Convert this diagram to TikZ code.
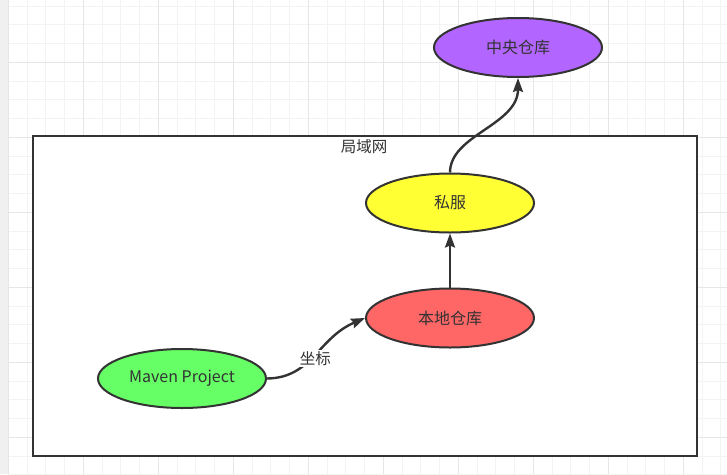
\documentclass[tikz,border=0pt]{standalone}
\usepackage{fontspec}
\setmainfont{Noto Sans CJK SC}
\usetikzlibrary{arrows.meta, shapes.geometric}

\definecolor{edgegray}{HTML}{333333}
\definecolor{gridminor}{HTML}{F3F3F3}
\definecolor{gridmajor}{HTML}{E6E6E6}
\definecolor{stripgray}{HTML}{F0F0F0}
\definecolor{purplerepo}{HTML}{B266FF}
\definecolor{yellowrepo}{HTML}{FFFF33}
\definecolor{redrepo}{HTML}{FF6666}
\definecolor{greenrepo}{HTML}{66FF66}

\begin{document}
\begin{tikzpicture}[x=1pt, y=-1pt, >={Stealth[length=14pt, width=10pt, inset=2pt]},
  repo/.style={ellipse, draw=edgegray, line width=2pt, minimum width=168pt,
               minimum height=59pt, inner sep=0pt, text=edgegray,
               font=\fontsize{16}{18}\selectfont},
  link/.style={->, draw=edgegray, line width=2.4pt},
  lbl/.style={font=\fontsize{15.5}{18}\selectfont, text=edgegray}]
  \useasboundingbox (0,0) rectangle (727,474);

  % Background grid
  \fill[white] (0,0) rectangle (727,474);
  \fill[stripgray] (0,0) rectangle (8.3,474);
  \foreach \i in {0,...,38}
    \draw[gridminor, line width=1pt] ({8.3+18.75*\i},0) -- ({8.3+18.75*\i},474);
  \foreach \i in {1,...,26}
    \draw[gridminor, line width=1pt] (8.3,{-12.7+18.75*\i}) -- (727,{-12.7+18.75*\i});
  \foreach \i in {0,...,9}
    \draw[gridmajor, line width=1pt] ({8.3+75*\i},0) -- ({8.3+75*\i},474);
  \foreach \i in {1,...,6}
    \draw[gridmajor, line width=1pt] (8.3,{-12.7+75*\i}) -- (727,{-12.7+75*\i});

  % LAN box
  \draw[edgegray, fill=white, line width=2.2pt] (33,136) rectangle (697,456);
  \node[lbl] (lan) at (364,147) {局域网};

  % Repositories
  \node[repo, fill=purplerepo] (central) at (518,47.5) {中央仓库};
  \node[repo, fill=yellowrepo] (private) at (450,203) {私服};
  \node[repo, fill=redrepo] (local) at (450,318) {本地仓库};
  \node[repo, fill=greenrepo] (maven) at (182,378.5) {Maven Project};

  % Links
  \draw[link] (private.north) .. controls (450,135) and (518,125) .. (central.south);
  \draw[link] (local.north) -- (private.south);
  \draw[link] (maven.east) .. controls (312,378) and (318,338) .. (local.west)
    node[pos=0.5, lbl, fill=white, inner sep=1pt, yshift=-3pt] (coord) {坐标};
\end{tikzpicture}
\end{document}
